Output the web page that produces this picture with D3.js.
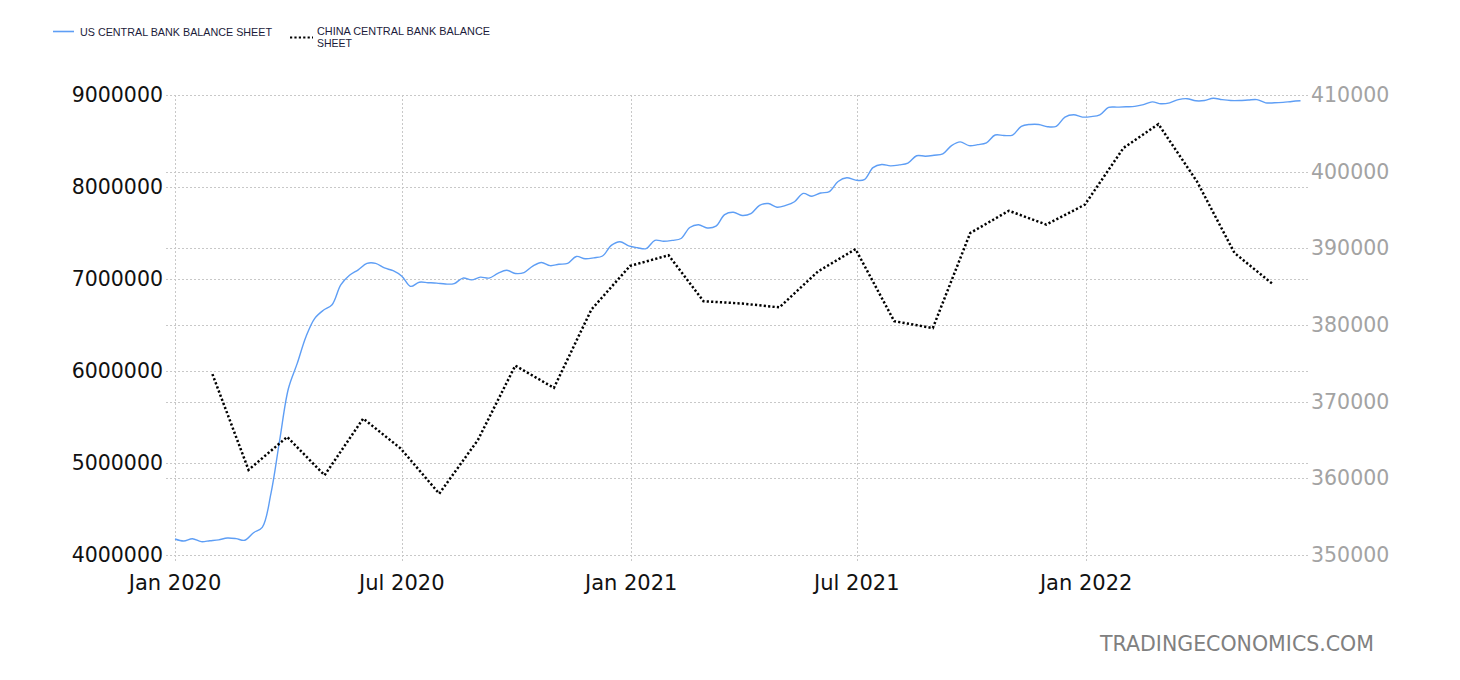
<!DOCTYPE html>
<html>
<head>
<meta charset="utf-8">
<script src="https://cdn.jsdelivr.net/npm/d3@7"></script>
<style>
  html, body { margin: 0; padding: 0; background: #fff; }
  svg { display: block; }
</style>
</head>
<body>
<svg id="chart" width="1460" height="680"></svg>
<script>
// ---------------- DATA ----------------
const seriesNames = ["US CENTRAL BANK BALANCE SHEET", "CHINA CENTRAL BANK BALANCE SHEET"];
const watermark = "TRADINGECONOMICS.COM";

// US weekly (Wednesdays) starting 2020-01-01, values in USD millions
const usStart = "2020-01-01";
const usValues = [
  // 2020
  4174000, 4152000, 4177000, 4145000, 4155000, 4165000, 4185000, 4178000, 4160000,
  4242000, 4300000, 4670000, 5250000, 5810000, 6080000, 6370000, 6570000, 6660000,
  6720000, 6935000, 7040000, 7100000, 7170000, 7170000, 7120000, 7090000, 7030000,
  6920000, 6965000, 6960000, 6955000, 6945000, 6950000, 7010000, 6990000, 7020000,
  7010000, 7060000, 7095000, 7060000, 7070000, 7140000, 7180000, 7145000, 7160000,
  7170000, 7245000, 7220000, 7230000, 7250000, 7365000, 7405000, 7360000,
  // 2021
  7340000, 7330000, 7420000, 7410000, 7420000, 7440000, 7560000, 7590000, 7555000,
  7575000, 7700000, 7725000, 7690000, 7710000, 7800000, 7820000, 7780000, 7800000,
  7840000, 7930000, 7900000, 7935000, 7950000, 8060000, 8100000, 8075000, 8080000,
  8210000, 8245000, 8230000, 8240000, 8260000, 8340000, 8335000, 8345000, 8360000,
  8450000, 8490000, 8450000, 8460000, 8480000, 8565000, 8560000, 8565000, 8660000,
  8680000, 8680000, 8655000, 8660000, 8760000, 8785000, 8760000,
  // 2022
  8765000, 8785000, 8865000, 8868000, 8872000, 8876000, 8895000, 8925000, 8905000,
  8915000, 8950000, 8960000, 8937000, 8940000, 8965000, 8950000, 8940000, 8940000,
  8945000, 8950000, 8915000, 8915000, 8920000, 8930000, 8937000
];

// China monthly, CNY 100 million
const cnDates = [
  "2020-01-31","2020-02-29","2020-03-31","2020-04-30","2020-05-31","2020-06-30",
  "2020-07-31","2020-08-31","2020-09-30","2020-10-31","2020-11-30","2020-12-31",
  "2021-01-31","2021-02-28","2021-03-31","2021-04-30","2021-05-31","2021-06-30",
  "2021-07-31","2021-08-31","2021-09-30","2021-10-31","2021-11-30","2021-12-31",
  "2022-01-31","2022-02-28","2022-03-31","2022-04-30","2022-05-31"
];
const cnValues = [
  373600, 361100, 365400, 360400, 367800, 363900,
  358000, 365000, 374700, 371800, 382000, 387700,
  389100, 383100, 382800, 382300, 387000, 389900,
  380500, 379600, 392000, 394900, 393100, 395700,
  403100, 406200, 398700, 389400, 385300
];

const xTickDates = ["2020-01-01","2020-07-01","2021-01-01","2021-07-01","2022-01-01"];
const xTickLabels = ["Jan 2020","Jul 2020","Jan 2021","Jul 2021","Jan 2022"];
const leftTicks = [4000000, 5000000, 6000000, 7000000, 8000000, 9000000];
const rightTicks = [350000, 360000, 370000, 380000, 390000, 400000, 410000];
const xDomain = ["2020-01-01", "2022-06-28"];
const leftDomain = [4000000, 9000000];
const rightDomain = [350000, 410000];

// ---------------- CHART ----------------
const svg = d3.select("#chart");
const parse = d3.utcParse("%Y-%m-%d");
const FONT = "'DejaVu Sans', Verdana, sans-serif";
const LFONT = "'Liberation Sans', Arial, sans-serif";

const plot = { left: 175, right: 1308, top: 95, bottom: 555 };

const x = d3.scaleUtc().domain(xDomain.map(parse)).range([plot.left, plot.right]);
const yL = d3.scaleLinear().domain(leftDomain).range([plot.bottom, plot.top]);
const yR = d3.scaleLinear().domain(rightDomain).range([plot.bottom, plot.top]);

const us = usValues.map((v, i) => ({ date: d3.utcDay.offset(parse(usStart), 7 * i), value: v }));
const cn = cnDates.map((d, i) => ({ date: parse(d), value: cnValues[i] }));

const grid = svg.append("g").attr("stroke", "#c8c8c8").attr("stroke-width", 1)
  .attr("stroke-dasharray", "2,2").attr("shape-rendering", "crispEdges");

// horizontal gridlines (left axis)
grid.selectAll("line.gl").data(leftTicks).join("line")
  .attr("x1", 166).attr("x2", plot.right)
  .attr("y1", d => Math.round(yL(d)) + 0.5).attr("y2", d => Math.round(yL(d)) + 0.5);
// horizontal gridlines (right axis)
grid.selectAll("line.gr").data(rightTicks).join("line")
  .attr("x1", 166).attr("x2", plot.right)
  .attr("y1", d => Math.round(yR(d)) + 0.5).attr("y2", d => Math.round(yR(d)) + 0.5);
// vertical gridlines
grid.selectAll("line.gv").data(xTickDates).join("line")
  .attr("x1", d => Math.round(x(parse(d))) + 0.5).attr("x2", d => Math.round(x(parse(d))) + 0.5)
  .attr("y1", plot.top).attr("y2", 562);

// axes labels
svg.append("g").selectAll("text").data(leftTicks).join("text")
  .attr("x", 163).attr("y", d => yL(d) + 7)
  .attr("text-anchor", "end").attr("font-family", FONT).attr("font-size", 20.5)
  .attr("fill", "#111").text(d => d3.format("d")(d));

svg.append("g").selectAll("text").data(rightTicks).join("text")
  .attr("x", 1311).attr("y", d => yR(d) + 7)
  .attr("text-anchor", "start").attr("font-family", FONT).attr("font-size", 20.5)
  .attr("fill", "#a3a3a3").text(d => d3.format("d")(d));

svg.append("g").selectAll("text").data(xTickDates).join("text")
  .attr("x", d => x(parse(d))).attr("y", 590)
  .attr("text-anchor", "middle").attr("font-family", FONT).attr("font-size", 21)
  .attr("fill", "#111").text((d, i) => xTickLabels[i]);

// lines
const lineL = d3.line().x(d => x(d.date)).y(d => yL(d.value)).curve(d3.curveCatmullRom.alpha(0.5));
const lineR = d3.line().x(d => x(d.date)).y(d => yR(d.value));

svg.append("path").datum(us).attr("d", lineL)
  .attr("fill", "none").attr("stroke", "#5e9ef5").attr("stroke-width", 1.4);

svg.append("path").datum(cn).attr("d", lineR)
  .attr("fill", "none").attr("stroke", "#000").attr("stroke-width", 2.5)
  .attr("stroke-dasharray", "2.2,2.2");

// legend
const lg = svg.append("g");
lg.append("line").attr("x1", 53).attr("x2", 74).attr("y1", 31.5).attr("y2", 31.5)
  .attr("stroke", "#5e9ef5").attr("stroke-width", 1.6);
lg.append("text").attr("x", 80).attr("y", 36).attr("font-family", LFONT)
  .attr("font-size", 11.5).attr("fill", "#1b1b3a")
  .attr("textLength", 192).attr("lengthAdjust", "spacingAndGlyphs").text(seriesNames[0]);
lg.append("line").attr("x1", 290).attr("x2", 313).attr("y1", 37.5).attr("y2", 37.5)
  .attr("stroke", "#000").attr("stroke-width", 2.2).attr("stroke-dasharray", "2.2,2.2");
lg.append("text").attr("x", 317).attr("y", 35).attr("font-family", LFONT)
  .attr("font-size", 11).attr("fill", "#1b1b3a")
  .attr("textLength", 173).attr("lengthAdjust", "spacingAndGlyphs").text("CHINA CENTRAL BANK BALANCE");
lg.append("text").attr("x", 317).attr("y", 47).attr("font-family", LFONT)
  .attr("font-size", 11).attr("fill", "#1b1b3a")
  .attr("textLength", 35).attr("lengthAdjust", "spacingAndGlyphs").text("SHEET");

// watermark
svg.append("text").attr("x", 1374).attr("y", 651).attr("text-anchor", "end")
  .attr("font-family", FONT).attr("font-size", 21).attr("fill", "#808080")
  .attr("textLength", 274).attr("lengthAdjust", "spacingAndGlyphs").text(watermark);
</script>
</body>
</html>
